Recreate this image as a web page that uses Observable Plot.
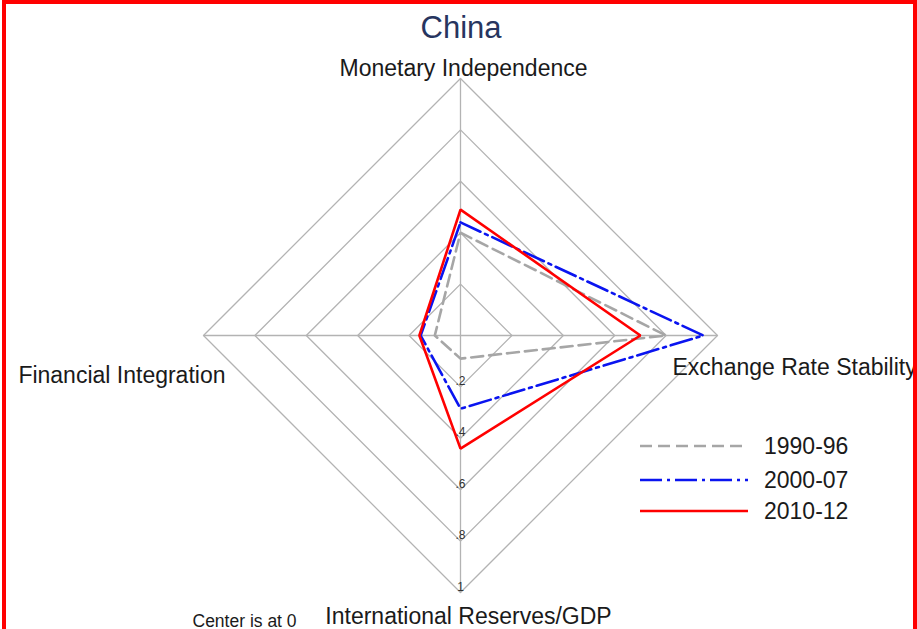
<!DOCTYPE html>
<html>
<head>
<meta charset="utf-8">
<script src="https://cdn.jsdelivr.net/npm/d3@7"></script>
<script src="https://cdn.jsdelivr.net/npm/@observablehq/plot@0.6"></script>
<style>
  html, body { margin: 0; padding: 0; background: #fff; }
  #wrap { position: relative; width: 917px; height: 629px; overflow: hidden; font-family: "Liberation Sans", Arial, sans-serif; }
  #frame { position: absolute; left: 2px; top: 0; width: 915px; height: 640px; box-sizing: border-box;
           border-top: 4px solid #ff0000; border-left: 4px solid #ff0000; border-right: 4px solid #ff0000; pointer-events: none; }
</style>
</head>
<body>
<div id="wrap"><div id="frame"></div></div>
<script>
// Radar axes, clockwise from the top
const axes = ["Monetary Independence", "Exchange Rate Stability", "International Reserves/GDP", "Financial Integration"];
const periods = ["1990-96", "2000-07", "2010-12"];
const v1990 = [0.40, 0.80, 0.09, 0.10];
const v2000 = [0.44, 0.945, 0.285, 0.155];
const v2010 = [0.49, 0.70, 0.44, 0.16];
const ringLevels = [0.2, 0.4, 0.6, 0.8, 1];
const tickLabels = [".2", ".4", ".6", ".8", "1"];

const seriesValues = [v1990, v2000, v2010];
const seriesColor = ["#a6a6a6", "#0a14f0", "#ff0000"];
const seriesDash = ["12,6", "22,5,3,5", null];

// polar -> cartesian: axis i points at i*90 degrees clockwise from the top
const pos = (i, r) => {
  const a = i * Math.PI / 2;
  return {x: r * Math.sin(a), y: r * Math.cos(a)};
};

const rings = ringLevels.flatMap(r => axes.map((name, i) => ({ring: r, ...pos(i, r)})));
const spokes = axes.map((name, i) => ({...pos(i, 1)}));
const polys = periods.map((p, k) => axes.map((name, i) => ({period: p, ...pos(i, seriesValues[k][i])})));
const ticks = ringLevels.map((r, j) => ({label: tickLabels[j], ...pos(2, r)}));
const axisLabels = axes.map((name, i) => ({name, ...pos(i, 1)}));

const R = 257, CX = 460, CY = 335, W = 917, H = 629;

const labelStyle = [
  {dx: 3, dy: -3, anchor: "middle"},
  {dx: -45, dy: 39, anchor: "start"},
  {dx: 8, dy: 31, anchor: "middle"},
  {dx: 22, dy: 47, anchor: "end"}
];

const marks = [
  Plot.line(rings, {x: "x", y: "y", z: "ring", curve: "linear-closed", stroke: "#b3b3b3", strokeWidth: 1.3}),
  Plot.link([spokes[0]], {x1: d => d.x, y1: d => d.y, x2: d => -d.x, y2: d => -d.y, stroke: "#b3b3b3", strokeWidth: 1.3}),
  Plot.link([spokes[1]], {x1: d => d.x, y1: d => d.y, x2: d => -d.x, y2: d => -d.y, stroke: "#b3b3b3", strokeWidth: 1.3}),
  Plot.text(ticks, {x: "x", y: "y", text: "label", fontSize: 12, fill: "#333", textAnchor: "middle", lineAnchor: "bottom", dy: -2}),
  ...polys.map((pts, k) => Plot.line(pts, {
    x: "x", y: "y", curve: "linear-closed",
    stroke: seriesColor[k], strokeWidth: 2.6, strokeDasharray: seriesDash[k] ?? undefined, strokeLinejoin: "miter"
  })),
  ...axisLabels.map((d, i) => Plot.text([d], {
    x: "x", y: "y", text: "name", fontSize: 23, fill: "#1a1a1a",
    textAnchor: labelStyle[i].anchor, lineAnchor: "bottom", dx: labelStyle[i].dx, dy: labelStyle[i].dy
  })),
  Plot.text(["China"], {frameAnchor: "top", text: d => d, fontSize: 31, fill: "#27355f", lineAnchor: "bottom", dy: 37, dx: 2}),
  Plot.text(["Center is at 0"], {frameAnchor: "bottom-left", text: d => d, fontSize: 17.5, fill: "#1a1a1a", textAnchor: "start", lineAnchor: "bottom", dx: 192, dy: -3})
];

const chart = Plot.plot({
  width: W, height: H,
  margin: 0,
  x: {domain: [-CX / R, (W - CX) / R], range: [0, W], axis: null},
  y: {domain: [CY / R, -(H - CY) / R], range: [0, H], axis: null},
  style: {fontFamily: "'Liberation Sans', Arial, sans-serif", background: "white", overflow: "hidden"},
  marks
});

// Legend, drawn at the right below the Exchange Rate Stability label
const svg = d3.select(chart);
const legend = svg.append("g").attr("transform", "translate(640,446)");
const rowY = [0, 34, 65];
periods.forEach((p, k) => {
  const g = legend.append("g").attr("transform", `translate(0,${rowY[k]})`);
  g.append("line").attr("x1", 0).attr("x2", 108).attr("y1", 0).attr("y2", 0)
    .attr("stroke", seriesColor[k]).attr("stroke-width", 2.6)
    .attr("stroke-dasharray", seriesDash[k]);
  g.append("text").attr("x", 124).attr("y", 0).attr("dy", "0.35em")
    .attr("text-anchor", "start")
    .attr("font-size", 23).attr("fill", "#1a1a1a").text(p);
});

document.getElementById("wrap").prepend(chart);
</script>
</body>
</html>
